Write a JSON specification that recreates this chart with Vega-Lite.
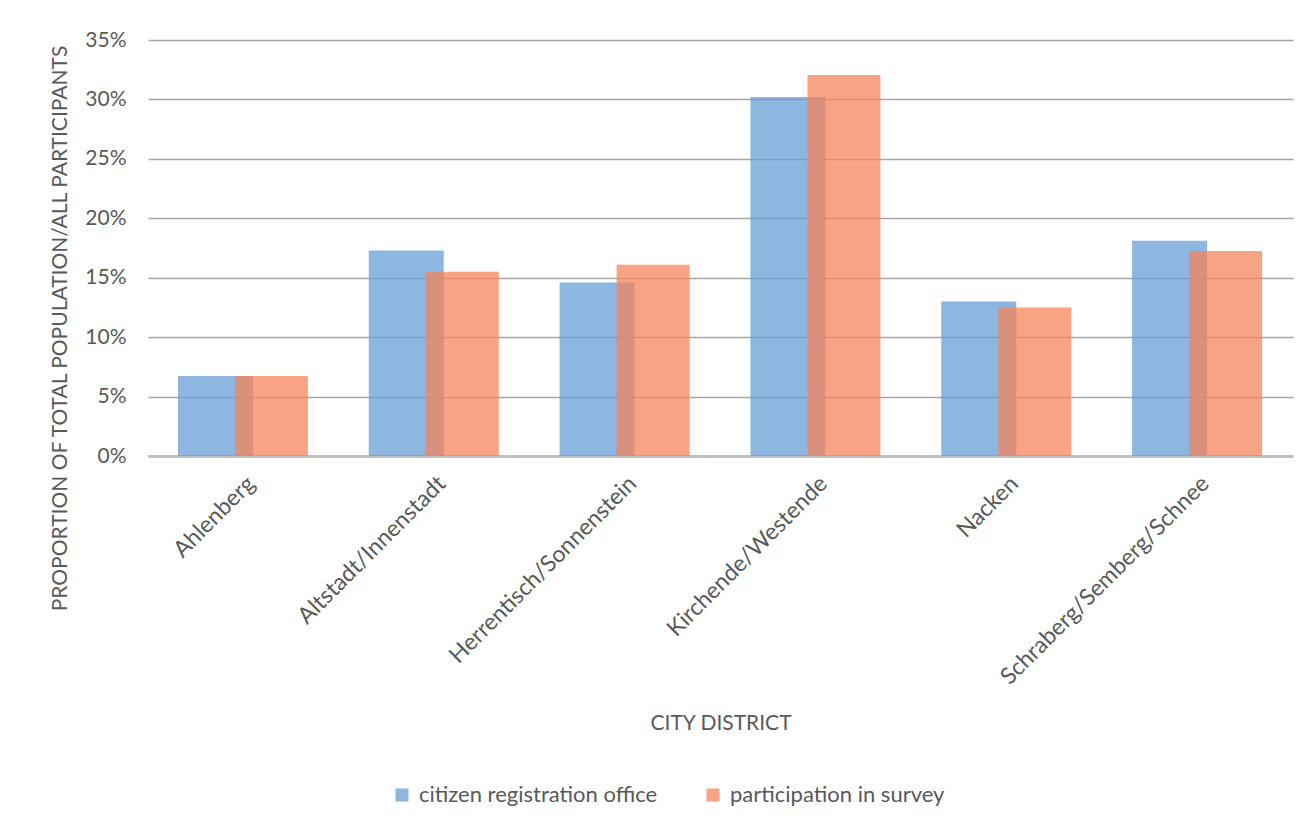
{
  "$schema": "https://vega.github.io/schema/vega-lite/v6.json",
  "width": 1145,
  "height": 416,
  "autosize": "none",
  "padding": {"left": 148, "top": 40, "right": 22, "bottom": 371},
  "background": "white",
  "config": {
    "font": "Lato",
    "view": {"stroke": null},
    "axis": {
      "labelFont": "Lato",
      "titleFont": "Lato",
      "labelColor": "#595959",
      "titleColor": "#595959",
      "labelFontSize": 21,
      "titleFontSize": 21,
      "titleFontWeight": "normal",
      "labelLimit": 0
    },
    "legend": {
      "labelFont": "Lato",
      "labelFontSize": 22,
      "labelColor": "#595959",
      "labelLimit": 0
    }
  },
  "data": {
    "values": [
      {"district": "Ahlenberg", "series": "citizen registration office", "value": 0.0673},
      {"district": "Ahlenberg", "series": "participation in survey", "value": 0.0673},
      {"district": "Altstadt/Innenstadt", "series": "citizen registration office", "value": 0.173},
      {"district": "Altstadt/Innenstadt", "series": "participation in survey", "value": 0.155},
      {"district": "Herrentisch/Sonnenstein", "series": "citizen registration office", "value": 0.146},
      {"district": "Herrentisch/Sonnenstein", "series": "participation in survey", "value": 0.161},
      {"district": "Kirchende/Westende", "series": "citizen registration office", "value": 0.302},
      {"district": "Kirchende/Westende", "series": "participation in survey", "value": 0.3205},
      {"district": "Nacken", "series": "citizen registration office", "value": 0.130},
      {"district": "Nacken", "series": "participation in survey", "value": 0.125},
      {"district": "Schraberg/Semberg/Schnee", "series": "citizen registration office", "value": 0.181},
      {"district": "Schraberg/Semberg/Schnee", "series": "participation in survey", "value": 0.1725}
    ]
  },
  "encoding": {
    "x": {
      "field": "district",
      "type": "nominal",
      "sort": null,
      "scale": {"paddingInner": 0, "paddingOuter": 0},
      "axis": {
        "title": "CITY DISTRICT",
        "labelAngle": -45,
        "labelFontSize": 23,
        "ticks": false,
        "domainColor": "#BFBFBF",
        "domainWidth": 3,
        "labelPadding": 16,
        "titleBaseline": "middle",
        "titleY": 267
      }
    },
    "y": {
      "field": "value",
      "type": "quantitative",
      "scale": {"domain": [0, 0.35], "nice": false},
      "axis": {
        "title": "PROPORTION OF TOTAL POPULATION/ALL PARTICIPANTS",
        "format": ".0%",
        "values": [0, 0.05, 0.1, 0.15, 0.2, 0.25, 0.3, 0.35],
        "domain": false,
        "ticks": false,
        "labelPadding": 22,
        "titlePadding": 14,
        "titleY": 288,
        "gridColor": "#A6A6A6",
        "gridWidth": 1.5
      }
    },
    "color": {
      "field": "series",
      "type": "nominal",
      "scale": {
        "domain": ["citizen registration office", "participation in survey"],
        "range": ["#679ED6", "#F4845B"]
      },
      "legend": {
        "title": null,
        "orient": "none",
        "direction": "horizontal",
        "legendX": 243,
        "legendY": 744,
        "symbolType": "square",
        "symbolSize": 169,
        "symbolOpacity": 0.75,
        "symbolStrokeWidth": 0,
        "columnPadding": 44,
        "labelOffset": 6
      }
    }
  },
  "layer": [
    {
      "transform": [{"filter": "datum.series === 'citizen registration office'"}],
      "mark": {"type": "bar", "width": 75, "xOffset": -28, "opacity": 0.75}
    },
    {
      "transform": [{"filter": "datum.series === 'participation in survey'"}],
      "mark": {"type": "bar", "width": 73, "xOffset": 28, "opacity": 0.75}
    }
  ]
}
